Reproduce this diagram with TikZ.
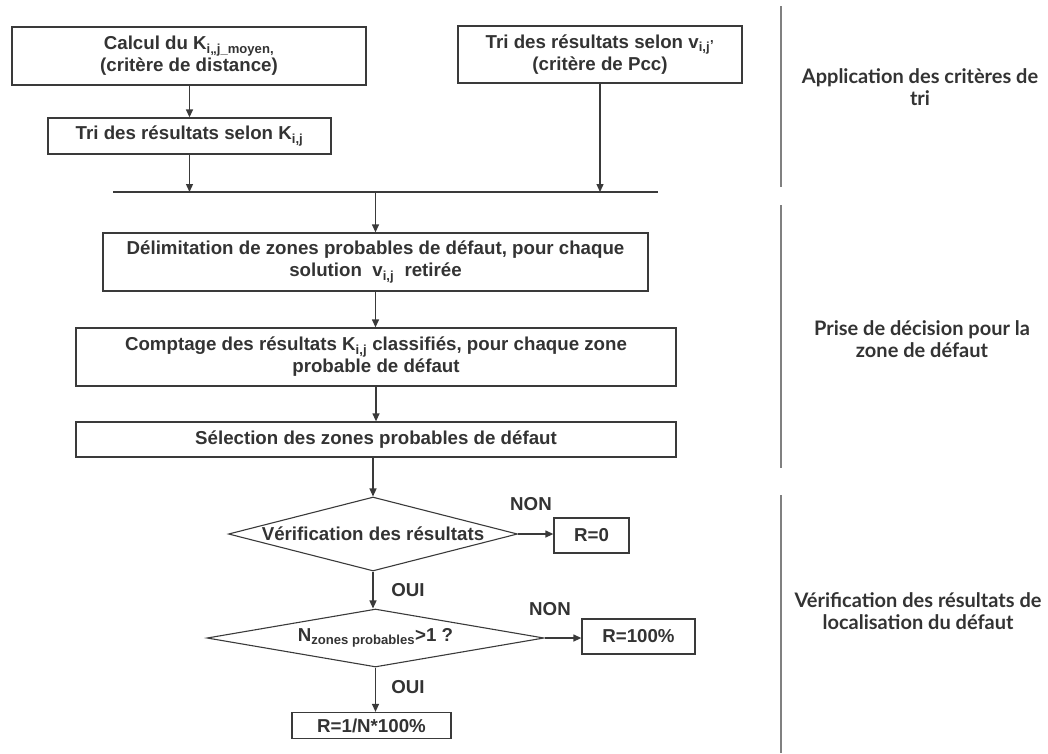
\documentclass[tikz,border=0pt]{standalone}
\usepackage{fontspec}
\setmainfont{Liberation Sans}
\newfontfamily\phasefont{Lato}
\usetikzlibrary{shapes.geometric,arrows.meta}
\definecolor{inkgray}{HTML}{333333}
\definecolor{linegray}{HTML}{3A3A3A}
\definecolor{sepgray}{HTML}{808080}
\newcommand\boxfont{\fontsize{18.7}{22}\selectfont\bfseries}
\tikzset{
  box/.style   ={draw=linegray, line width=1.3pt, inner sep=0pt, align=center, text=inkgray, font=\boxfont},
  decide/.style={diamond, draw=linegray, line width=1.1pt, inner sep=0pt, text=inkgray, font=\boxfont},
  arr/.style   ={draw=linegray, line width=1.3pt, -{Triangle[length=8pt,width=7pt]}},
  joinS/.style ={draw=linegray, line width=1.3pt},
  ans/.style   ={text=inkgray, font=\boxfont, inner sep=0pt},
  phase/.style ={text=inkgray, align=center, font=\fontsize{20}{21.5}\selectfont\phasefont\bfseries},
  sepS/.style  ={draw=sepgray, line width=2pt},
}
\begin{document}
\begin{tikzpicture}[x=1pt, y=-1pt]
  \useasboundingbox (0,0) rectangle (1048,753);
  % tri
  \node[box, minimum width=354pt, minimum height=58pt] (calc) at (189,56)
    {Calcul du K\textsubscript{i,,j\_moyen,}\\(critère de distance)};
  \node[box, minimum width=283pt, minimum height=36pt] (trik) at (189.5,136)
    {Tri des résultats selon K\textsubscript{i,j}};
  \node[box, minimum width=284pt, minimum height=57pt] (triv) at (600,54.5)
    {Tri des résultats selon v\textsubscript{i,j}\textsuperscript{,}\\(critère de Pcc)};
  \coordinate (joinL) at (113,192);
  \coordinate (joinR) at (658,192);
  \draw[arr] (calc.south -| trik.north) -- (trik.north);
  \draw[arr] (trik.south) -- (trik.south |- joinL);
  \draw[arr] (triv.south) -- (triv.south |- joinL);
  \draw[joinS] (joinL) -- (joinR);
  % decision
  \node[box, minimum width=545pt, minimum height=58pt] (delim) at (375.5,262)
    {Délimitation de zones probables de défaut, pour chaque\\solution\ \ v\textsubscript{i,j}\ \ retirée};
  \node[box, minimum width=600pt, minimum height=58pt] (compt) at (376,357)
    {Comptage des résultats K\textsubscript{i,j} classifiés, pour chaque zone\\probable de défaut};
  \node[box, minimum width=600pt, minimum height=35pt] (selec) at (376,439.5)
    {Sélection des zones probables de défaut};
  \draw[arr] (joinL -| delim.north) -- (delim.north);
  \draw[arr] (delim.south) -- (delim.south |- compt.north);
  \draw[arr] (compt.south) -- (selec.north);
  % verification
  \node[decide, minimum width=289pt, minimum height=74pt] (verif) at (373,534)
    {\makebox[0pt]{Vérification des résultats}};
  \node[decide, minimum width=337pt, minimum height=58pt] (nzone) at (375.5,638)
    {\makebox[0pt]{N\textsubscript{zones probables}>1 ?}};
  \node[box, minimum width=75pt, minimum height=35pt] (rzero) at (591.5,535.5) {R=0};
  \node[box, minimum width=113pt, minimum height=35pt] (rcent) at (638.5,636.5) {R=100\%};
  \node[box, minimum width=159pt, minimum height=26pt] (rfrac) at (371.5,725.5) {R=1/N*100\%};
  \draw[arr] (selec.south -| verif.north) -- (verif.north);
  \draw[arr] (verif.east) -- (verif.east -| rzero.west);
  \draw[arr] (verif.south) -- (verif.south |- nzone.north);
  \draw[arr] (nzone.east) -- (nzone.east -| rcent.west);
  \draw[arr] (nzone.south) -- (nzone.south |- rfrac.north);
  \node[ans] (non1) at (531,504) {NON};
  \node[ans] (oui1) at (408,590) {OUI};
  \node[ans] (non2) at (550,609) {NON};
  \node[ans] (oui2) at (408,687) {OUI};
  % phases
  \draw[sepS] (781,6) -- (781,187);
  \draw[sepS] (781,205) -- (781,468);
  \draw[sepS] (781,495) -- (781,753);
  \node[phase] (ph1) at (920,87) {Application des critères de\\tri};
  \node[phase] (ph2) at (922,339) {Prise de décision pour la\\zone de défaut};
  \node[phase] (ph3) at (918,611) {Vérification des résultats de\\localisation du défaut};
\end{tikzpicture}
\end{document}
